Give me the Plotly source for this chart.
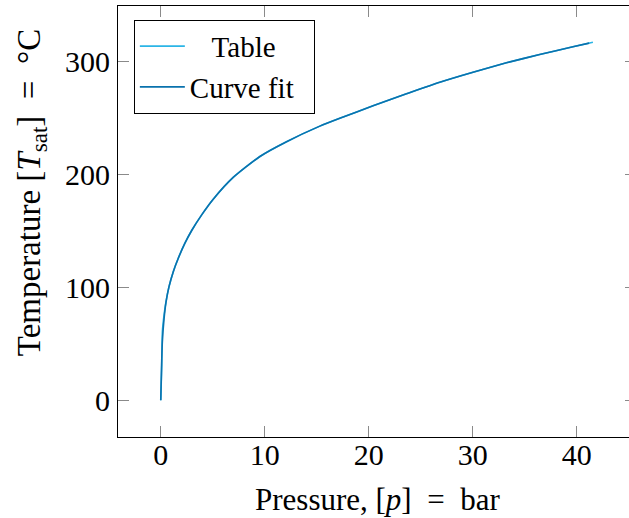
import plotly.graph_objects as go

# Saturation table (pressure in bar, temperature in °C)
p_table = [0.006, 0.1, 0.16, 0.32, 0.51, 0.8, 1.21, 1.69, 2.33, 2.98, 3.94, 5.05, 6.97,
           9.54, 12.1, 15.3, 17.22, 20.42, 23.63, 26.83, 30.03, 33.24, 36.44, 39.64, 41.56]
T_table = [0.01, 31.0, 60.7, 75.5, 87.3, 100.7, 114.0, 125.9, 139.2, 150.5, 164.3, 178.2, 197.5,
           216.1, 229.2, 243.0, 250.0, 261.0, 271.6, 281.9, 290.8, 299.1, 306.5, 313.3, 317.4]

# Curve fit evaluated at sample pressures
p_fit = [0.006, 0.1, 0.16, 0.32, 0.51, 0.8, 1.21, 1.69, 2.33, 2.98, 3.94, 5.05, 6.97,
         9.54, 12.1, 15.3, 17.22, 20.42, 23.63, 26.83, 30.03, 33.24, 36.44, 39.64, 41.2]
T_fit = [0.01, 36.0, 52.0, 72.0, 87.0, 100.7, 114.0, 125.9, 139.2, 150.5, 164.3, 178.2, 197.5,
         216.1, 229.2, 243.0, 250.0, 261.0, 271.6, 281.9, 290.8, 299.1, 306.5, 313.3, 316.6]

x_ticks = [0, 10, 20, 30, 40]
y_ticks = [0, 100, 200, 300]

FONT = "Liberation Serif"
NB = "\u00a0"

fig = go.Figure()
fig.add_trace(go.Scatter(x=p_table, y=T_table, mode="lines", name=NB * 3 + "Table",
                         line=dict(color="#2bb5e6", width=1.6, shape="spline", smoothing=0.6)))
fig.add_trace(go.Scatter(x=p_fit, y=T_fit, mode="lines", name="Curve fit" + NB * 2,
                         line=dict(color="#0a72ad", width=1.6, shape="spline", smoothing=0.6)))
# invisible trace for right-side y ticks
fig.add_trace(go.Scatter(x=[None], y=[None], yaxis="y2", showlegend=False, hoverinfo="skip"))

yr = [-32.6, 349.5]
fig.update_layout(
    width=629, height=518,
    margin=dict(l=118, r=0, t=6, b=81),
    paper_bgcolor="white", plot_bgcolor="white",
    font=dict(family=FONT, size=30, color="black"),
    showlegend=True,
    legend=dict(x=0.031, y=0.968, xanchor="left", yanchor="top",
                bgcolor="white", bordercolor="black", borderwidth=1,
                font=dict(family=FONT, size=29), tracegroupgap=0,
                itemwidth=45),
    xaxis=dict(range=[-4.106, 45.03], tickvals=x_ticks, ticktext=[str(v) for v in x_ticks],
               showgrid=False, zeroline=False, showline=True, linecolor="black", linewidth=1,
               mirror="ticks", ticks="inside", ticklen=11, tickcolor="#8a8a8a", tickwidth=1,
               tickfont=dict(size=30), ticklabelstandoff=-9),
    yaxis=dict(range=yr, tickvals=y_ticks, ticktext=[str(v) for v in y_ticks],
               showgrid=False, zeroline=False, showline=True, linecolor="black", linewidth=1,
               mirror=False, ticks="inside", ticklen=11, tickcolor="#8a8a8a", tickwidth=1,
               tickfont=dict(size=30), ticklabelstandoff=1),
    yaxis2=dict(range=yr, overlaying="y", side="right", tickvals=y_ticks,
                showticklabels=False, showgrid=False, zeroline=False, showline=False,
                ticks="inside", ticklen=4, tickcolor="#8a8a8a", tickwidth=1),
    annotations=[
        dict(text="Pressure, [<i>p</i>]" + NB + " = " + NB + "bar", xref="paper", yref="paper",
             x=0.507, y=-0.145, xanchor="center", yanchor="middle", showarrow=False,
             font=dict(family=FONT, size=31)),
        dict(text="Temperature [<i>T</i><sub>sat</sub>]" + NB + " = " + NB + "°C",
             xref="paper", yref="paper",
             x=-0.170, y=0.566, xanchor="center", yanchor="middle", textangle=-90,
             showarrow=False, font=dict(family=FONT, size=33)),
    ],
)

fig.write_html("out.html")
